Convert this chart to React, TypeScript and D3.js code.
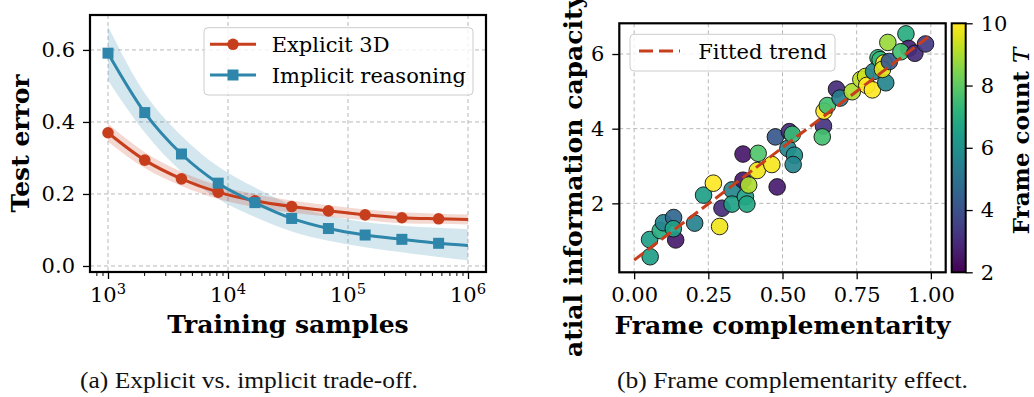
import React, { useEffect, useRef } from 'react';
import * as d3 from 'd3';

// (a) learning curves, sampled where the markers sit (+ the 1e6 end point)
const samples = [1000, 2024, 4095, 8286, 16768, 33932, 68665, 138950, 281177, 568987, 1000000];
const explicitErr = [0.370, 0.294, 0.242, 0.205, 0.181, 0.165, 0.153, 0.142, 0.134, 0.131, 0.129];
const explicitHi = [0.395, 0.316, 0.262, 0.224, 0.199, 0.182, 0.169, 0.157, 0.149, 0.145, 0.143];
const explicitLo = [0.345, 0.272, 0.222, 0.186, 0.163, 0.148, 0.137, 0.127, 0.119, 0.117, 0.115];
const implicitErr = [0.591, 0.426, 0.311, 0.230, 0.176, 0.132, 0.104, 0.086, 0.074, 0.063, 0.057];
const implicitHi = [0.665, 0.480, 0.362, 0.276, 0.218, 0.170, 0.140, 0.122, 0.112, 0.106, 0.102];
const implicitLo = [0.515, 0.371, 0.262, 0.186, 0.136, 0.096, 0.070, 0.052, 0.038, 0.025, 0.016];
const markerCount = 10;

// (b) scatter
const compX = [0.052, 0.054, 0.088, 0.099, 0.140, 0.133, 0.132, 0.204, 0.234, 0.267, 0.288, 0.296,
  0.330, 0.330, 0.375, 0.380, 0.367, 0.386, 0.367, 0.418, 0.415, 0.464, 0.482, 0.476, 0.523, 0.518,
  0.540, 0.536, 0.533, 0.638, 0.634, 0.640, 0.651, 0.682, 0.694, 0.735, 0.764, 0.780, 0.784, 0.803,
  0.807, 0.848, 0.822, 0.829, 0.842, 0.837, 0.860, 0.855, 0.916, 0.925, 0.899, 0.946, 0.982];
const capY = [1.03, 0.57, 1.27, 1.48, 1.02, 1.62, 1.32, 1.47, 2.22, 2.54, 1.38, 1.87,
  2.36, 1.98, 2.18, 1.98, 2.62, 2.49, 3.32, 3.34, 2.88, 3.04, 2.44, 3.78, 3.92, 3.47,
  3.29, 3.04, 3.85, 4.07, 3.78, 4.47, 4.62, 5.06, 4.82, 4.99, 5.32, 5.40, 5.16, 5.04,
  5.53, 5.23, 5.90, 5.85, 5.76, 5.59, 5.80, 6.31, 6.54, 6.15, 6.06, 6.02, 6.27];
const frameT = [6.5, 6.5, 7.0, 5.5, 2.6, 4.6, 6.6, 5.5, 6.5, 10, 9.8, 3.0,
  5.6, 6.6, 6.6, 6.8, 2.5, 9.0, 2.5, 7.8, 9.8, 9.9, 2.6, 4.2, 3.0, 5.6,
  6.0, 5.6, 7.4, 3.2, 7.6, 10, 7.6, 3.0, 5.4, 9.0, 9.2, 9.4, 10, 10,
  5.6, 5.6, 7.2, 7.4, 10, 9.6, 4.2, 8.8, 7.0, 2.8, 7.6, 3.0, 3.4];
const trendX = [0, 1];
const trendY = [0.48, 6.51];

const errTicks = [0, 0.2, 0.4, 0.6];
const sampleTicks = [1e3, 1e4, 1e5, 1e6];
const compTicks = [0, 0.25, 0.5, 0.75, 1];
const capTicks = [2, 4, 6];
const frameTicks = [2, 4, 6, 8, 10];

const RED = '#C73E1D';
const BLUE = '#2E86AB';
const FONT = 'DejaVu Serif';
const TICK = 21;
const LABEL = 25;

export default function App() {
  const svgRef = useRef<SVGSVGElement>(null);

  useEffect(() => {
    if (!svgRef.current) return;
    const svg = d3.select(svgRef.current);
    svg.selectAll('*').remove();

    const styleAxis = (g: any, size = TICK) => {
      g.attr('font-family', null).attr('font-size', null);
      g.select('.domain').remove();
      g.selectAll('line').attr('stroke', '#000').attr('stroke-width', 1.3);
      g.selectAll('text').attr('font-family', FONT).attr('font-size', size).attr('fill', '#000');
    };
    const grid = (g: any, x1: number, y1: number, x2: number, y2: number) =>
      g.append('line').attr('x1', x1).attr('y1', y1).attr('x2', x2).attr('y2', y2)
        .attr('stroke', '#b8b8b8').attr('stroke-width', 1).attr('stroke-dasharray', '4,3');

    // ---------- (a) ----------
    const A = { l: 90, r: 486, t: 15, b: 272 };
    const xA = d3.scaleLog().domain([10 ** 2.85, 10 ** 6.15]).range([A.l, A.r]);
    const yA = d3.scaleLinear().domain([-0.0167, 0.697]).range([A.b, A.t]);
    const ga = svg.append('g');

    sampleTicks.forEach(v => grid(ga, xA(v), A.t, xA(v), A.b));
    errTicks.forEach(v => grid(ga, A.l, yA(v), A.r, yA(v)));

    const idx = d3.range(samples.length);
    const band = (lo: number[], hi: number[]) => d3.area<number>()
      .x(i => xA(samples[i])).y0(i => yA(lo[i])).y1(i => yA(hi[i])).curve(d3.curveMonotoneX)(idx);
    const line = (v: number[]) => d3.line<number>()
      .x(i => xA(samples[i])).y(i => yA(v[i])).curve(d3.curveMonotoneX)(idx);

    ga.append('path').attr('d', band(implicitLo, implicitHi)).attr('fill', BLUE).attr('opacity', 0.2);
    ga.append('path').attr('d', band(explicitLo, explicitHi)).attr('fill', RED).attr('opacity', 0.2);

    ga.append('path').attr('d', line(explicitErr)).attr('fill', 'none').attr('stroke', RED).attr('stroke-width', 3);
    ga.append('path').attr('d', line(implicitErr)).attr('fill', 'none').attr('stroke', BLUE).attr('stroke-width', 3);

    idx.slice(0, markerCount).forEach(i => {
      ga.append('circle').attr('cx', xA(samples[i])).attr('cy', yA(explicitErr[i])).attr('r', 5.8).attr('fill', RED);
    });
    idx.slice(0, markerCount).forEach(i => {
      ga.append('rect').attr('x', xA(samples[i]) - 5.5).attr('y', yA(implicitErr[i]) - 5.5)
        .attr('width', 11).attr('height', 11).attr('fill', BLUE);
    });

    const ayAxis = ga.append('g').attr('transform', `translate(${A.l},0)`)
      .call(d3.axisLeft(yA).tickValues(errTicks).tickSize(7).tickPadding(8).tickFormat(d3.format('.1f')));
    styleAxis(ayAxis);

    const minor: number[] = [];
    [100, 1000, 10000, 100000, 1000000].forEach(base => {
      for (let k = 2; k <= 9; k++) {
        const v = base * k;
        if (v > xA.domain()[0] && v < xA.domain()[1]) minor.push(v);
      }
    });
    const axMinor = ga.append('g').attr('transform', `translate(0,${A.b})`)
      .call(d3.axisBottom(xA).tickValues(minor).tickSize(4).tickFormat(() => ''));
    styleAxis(axMinor);
    axMinor.selectAll('line').attr('stroke-width', 1);
    const axMajor = ga.append('g').attr('transform', `translate(0,${A.b})`)
      .call(d3.axisBottom(xA).tickValues(sampleTicks).tickSize(7).tickFormat(() => ''));
    styleAxis(axMajor);
    sampleTicks.forEach(v => {
      const t = ga.append('text').attr('x', xA(v)).attr('y', 302).attr('text-anchor', 'middle')
        .attr('font-family', FONT).attr('font-size', TICK);
      t.append('tspan').text('10');
      t.append('tspan').attr('dy', -8.5).attr('font-size', 14.7).text(String(Math.round(Math.log10(v))));
    });

    ga.append('rect').attr('x', A.l).attr('y', A.t).attr('width', A.r - A.l).attr('height', A.b - A.t)
      .attr('fill', 'none').attr('stroke', '#000').attr('stroke-width', 2.2);

    ga.append('text').attr('x', (A.l + A.r) / 2).attr('y', 333).attr('text-anchor', 'middle')
      .attr('font-family', FONT).attr('font-weight', 'bold').attr('font-size', LABEL).text('Training samples');
    ga.append('text').attr('transform', 'translate(29,143.5) rotate(-90)').attr('text-anchor', 'middle')
      .attr('font-family', FONT).attr('font-weight', 'bold').attr('font-size', LABEL).text('Test error');

    // legend (a)
    const lg = ga.append('g');
    lg.append('rect').attr('x', 204).attr('y', 27.7).attr('width', 269).attr('height', 67.3).attr('rx', 4)
      .attr('fill', '#fff').attr('fill-opacity', 0.8).attr('stroke', '#cccccc');
    [{ y: 44.3, c: RED, label: 'Explicit 3D', sq: false }, { y: 75, c: BLUE, label: 'Implicit reasoning', sq: true }]
      .forEach(d => {
        lg.append('line').attr('x1', 210).attr('x2', 256).attr('y1', d.y).attr('y2', d.y)
          .attr('stroke', d.c).attr('stroke-width', 3);
        if (d.sq) lg.append('rect').attr('x', 233 - 5.5).attr('y', d.y - 5.5).attr('width', 11).attr('height', 11).attr('fill', d.c);
        else lg.append('circle').attr('cx', 233).attr('cy', d.y).attr('r', 5.8).attr('fill', d.c);
        lg.append('text').attr('x', 271.7).attr('y', d.y + 7.5).attr('font-family', FONT).attr('font-size', TICK).text(d.label);
      });

    // ---------- (b) ----------
    const B = { l: 619.3, r: 945.7, t: 23.3, b: 272.3 };
    const xB = d3.scaleLinear().domain([-0.05, 1.05]).range([B.l, B.r]);
    const yB = d3.scaleLinear().domain([0.153, 6.823]).range([B.b, B.t]);
    const color = d3.scaleSequential(d3.interpolateViridis).domain([2, 10]);
    const gb = svg.append('g');

    compTicks.forEach(v => grid(gb, xB(v), B.t, xB(v), B.b));
    capTicks.forEach(v => grid(gb, B.l, yB(v), B.r, yB(v)));

    compX.forEach((x, i) => {
      gb.append('circle').attr('cx', xB(x)).attr('cy', yB(capY[i])).attr('r', 8.3)
        .attr('fill', color(frameT[i])).attr('fill-opacity', 0.92)
        .attr('stroke', '#111').attr('stroke-width', 0.9);
    });

    gb.append('line').attr('x1', xB(trendX[0])).attr('y1', yB(trendY[0]))
      .attr('x2', xB(trendX[1])).attr('y2', yB(trendY[1]))
      .attr('stroke', RED).attr('stroke-width', 3).attr('stroke-dasharray', '12,5');

    const bx = gb.append('g').attr('transform', `translate(0,${B.b})`)
      .call(d3.axisBottom(xB).tickValues(compTicks).tickSize(7).tickPadding(8).tickFormat(d3.format('.2f')));
    styleAxis(bx);
    const by = gb.append('g').attr('transform', `translate(${B.l},0)`)
      .call(d3.axisLeft(yB).tickValues(capTicks).tickSize(7).tickPadding(8).tickFormat(d3.format('d')));
    styleAxis(by);

    gb.append('rect').attr('x', B.l).attr('y', B.t).attr('width', B.r - B.l).attr('height', B.b - B.t)
      .attr('fill', 'none').attr('stroke', '#000').attr('stroke-width', 2.2);

    gb.append('text').attr('x', (B.l + B.r) / 2).attr('y', 334).attr('text-anchor', 'middle')
      .attr('font-family', FONT).attr('font-weight', 'bold').attr('font-size', LABEL).text('Frame complementarity');

    // y label of (b): runs past the figure, "Sp" is cut off at the bottom
    const probe = svg.append('text').attr('font-family', FONT).attr('font-weight', 'bold').attr('font-size', LABEL).text('Sp');
    const spW = (probe.node() as SVGTextElement).getComputedTextLength();
    probe.remove();
    svg.append('clipPath').attr('id', 'ylabclip').append('rect').attr('x', 540).attr('y', 0).attr('width', 70).attr('height', 358);
    svg.append('g').attr('clip-path', 'url(#ylabclip)').append('text')
      .attr('transform', `translate(582,${357 + spW}) rotate(-90)`).attr('text-anchor', 'start')
      .attr('font-family', FONT).attr('font-weight', 'bold').attr('font-size', LABEL).text('Spatial information capacity');

    // legend (b)
    gb.append('rect').attr('x', 630).attr('y', 34.3).attr('width', 205).attr('height', 36.7).attr('rx', 4)
      .attr('fill', '#fff').attr('fill-opacity', 0.8).attr('stroke', '#cccccc');
    gb.append('line').attr('x1', 639).attr('x2', 680).attr('y1', 51).attr('y2', 51)
      .attr('stroke', RED).attr('stroke-width', 3).attr('stroke-dasharray', '14,6');
    gb.append('text').attr('x', 698.3).attr('y', 58.5).attr('font-family', FONT).attr('font-size', TICK).text('Fitted trend');

    // colorbar
    const C = { l: 951.7, r: 965.7 };
    const cy = d3.scaleLinear().domain([2, 10]).range([B.b, B.t]);
    const grad = svg.append('defs').append('linearGradient').attr('id', 'viridisGrad')
      .attr('x1', 0).attr('y1', 1).attr('x2', 0).attr('y2', 0);
    d3.range(0, 1.0001, 0.05).forEach(t => {
      grad.append('stop').attr('offset', t).attr('stop-color', d3.interpolateViridis(t));
    });
    gb.append('rect').attr('x', C.l).attr('y', B.t).attr('width', C.r - C.l).attr('height', B.b - B.t)
      .attr('fill', 'url(#viridisGrad)').attr('stroke', '#000').attr('stroke-width', 2);
    const cAxis = gb.append('g').attr('transform', `translate(${C.r},0)`)
      .call(d3.axisRight(cy).tickValues(frameTicks).tickSize(7).tickPadding(8).tickFormat(d3.format('d')));
    styleAxis(cAxis);
    const fl = gb.append('text').attr('transform', 'translate(1029,141) rotate(-90)').attr('text-anchor', 'middle')
      .attr('font-family', FONT).attr('font-size', 23);
    fl.append('tspan').attr('font-weight', 'bold').text('Frame count ');
    fl.append('tspan').attr('font-style', 'italic').text('T');

    // captions
    const cap = (x: number, w: number, s: string) => svg.append('text').attr('x', x).attr('y', 388)
      .attr('font-family', 'Liberation Serif').attr('font-size', 24)
      .attr('textLength', w).attr('lengthAdjust', 'spacingAndGlyphs').attr('fill', '#111').text(s);
    cap(80, 338, '(a) Explicit vs. implicit trade-off.');
    cap(617, 351, '(b) Frame complementarity effect.');
  }, []);

  return (
    <svg ref={svgRef} width={1034} height={397}
      style={{ position: 'absolute', left: 0, top: 0, background: '#fff' }} />
  );
}
